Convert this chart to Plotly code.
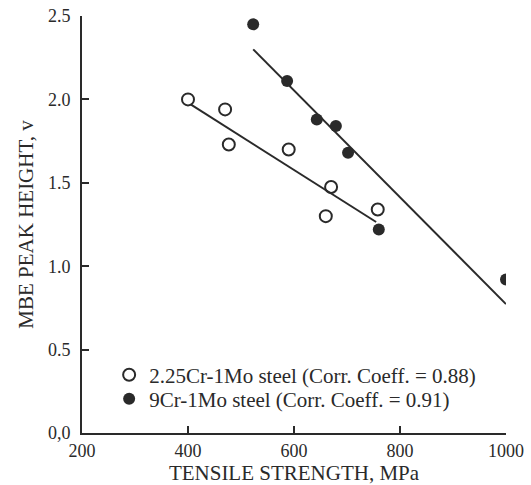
import plotly.graph_objects as go

# Data
cr225_x = [400, 470, 477, 590, 670, 660, 758]
cr225_y = [2.00, 1.94, 1.73, 1.70, 1.475, 1.30, 1.34]
cr9_x = [523, 587, 643, 679, 702, 760, 1000]
cr9_y = [2.45, 2.11, 1.88, 1.84, 1.68, 1.22, 0.92]

fit225_x = [405, 755]
fit225_y = [1.97, 1.265]
fit9_x = [523, 1000]
fit9_y = [2.30, 0.773]

x_ticks = [200, 400, 600, 800, 1000]
y_ticks = [0, 0.5, 1.0, 1.5, 2.0, 2.5]
y_labels = ["0,0", "0.5", "1.0", "1.5", "2.0", "2.5"]

font_family = "Liberation Serif, Times New Roman, serif"
ink = "#2a2a2a"

fig = go.Figure()
fig.add_trace(go.Scatter(x=fit225_x, y=fit225_y, mode="lines",
                         line=dict(color=ink, width=2), showlegend=False, hoverinfo="skip"))
fig.add_trace(go.Scatter(x=fit9_x, y=fit9_y, mode="lines",
                         line=dict(color=ink, width=2), showlegend=False, hoverinfo="skip"))
fig.add_trace(go.Scatter(x=cr225_x, y=cr225_y, mode="markers", legend="legend",
                         name="2.25Cr-1Mo steel (Corr. Coeff. = 0.88)",
                         marker=dict(symbol="circle-open", size=12, color=ink, line=dict(width=2))))
fig.add_trace(go.Scatter(x=cr9_x, y=cr9_y, mode="markers", legend="legend2",
                         name="9Cr-1Mo steel (Corr. Coeff. = 0.91)",
                         marker=dict(symbol="circle", size=12, color=ink)))

legend_style = dict(xanchor="left", yanchor="middle", bgcolor="rgba(0,0,0,0)",
                    font=dict(size=21, color=ink, family=font_family), itemwidth=30)

fig.update_layout(
    width=531, height=485,
    margin=dict(l=82, r=25, t=16, b=52, autoexpand=False),
    paper_bgcolor="white", plot_bgcolor="white",
    font=dict(family=font_family, size=18, color=ink),
    legend=dict(x=0.064, y=0.139, **legend_style),
    legend2=dict(x=0.064, y=0.0815, **legend_style),
    xaxis=dict(range=[200, 1000], tickvals=x_ticks, ticks="inside", ticklen=7,
               tickwidth=1.5, tickcolor=ink, showline=True, linecolor=ink, linewidth=2,
               showgrid=False, zeroline=False, tickfont=dict(size=18),
               ticklabelstandoff=0, automargin=False,
               title=dict(text="TENSILE STRENGTH, MPa", font=dict(size=21), standoff=9)),
    yaxis=dict(range=[0, 2.5], tickvals=y_ticks, ticktext=y_labels, ticks="inside",
               ticklen=7, tickwidth=1.5, tickcolor=ink, showline=True, linecolor=ink,
               linewidth=2, showgrid=False, zeroline=False, tickfont=dict(size=18),
               ticklabelstandoff=6, automargin=False,
               title=dict(text="MBE PEAK HEIGHT, v", font=dict(size=21), standoff=9)),
)

fig.write_html("out.html")
